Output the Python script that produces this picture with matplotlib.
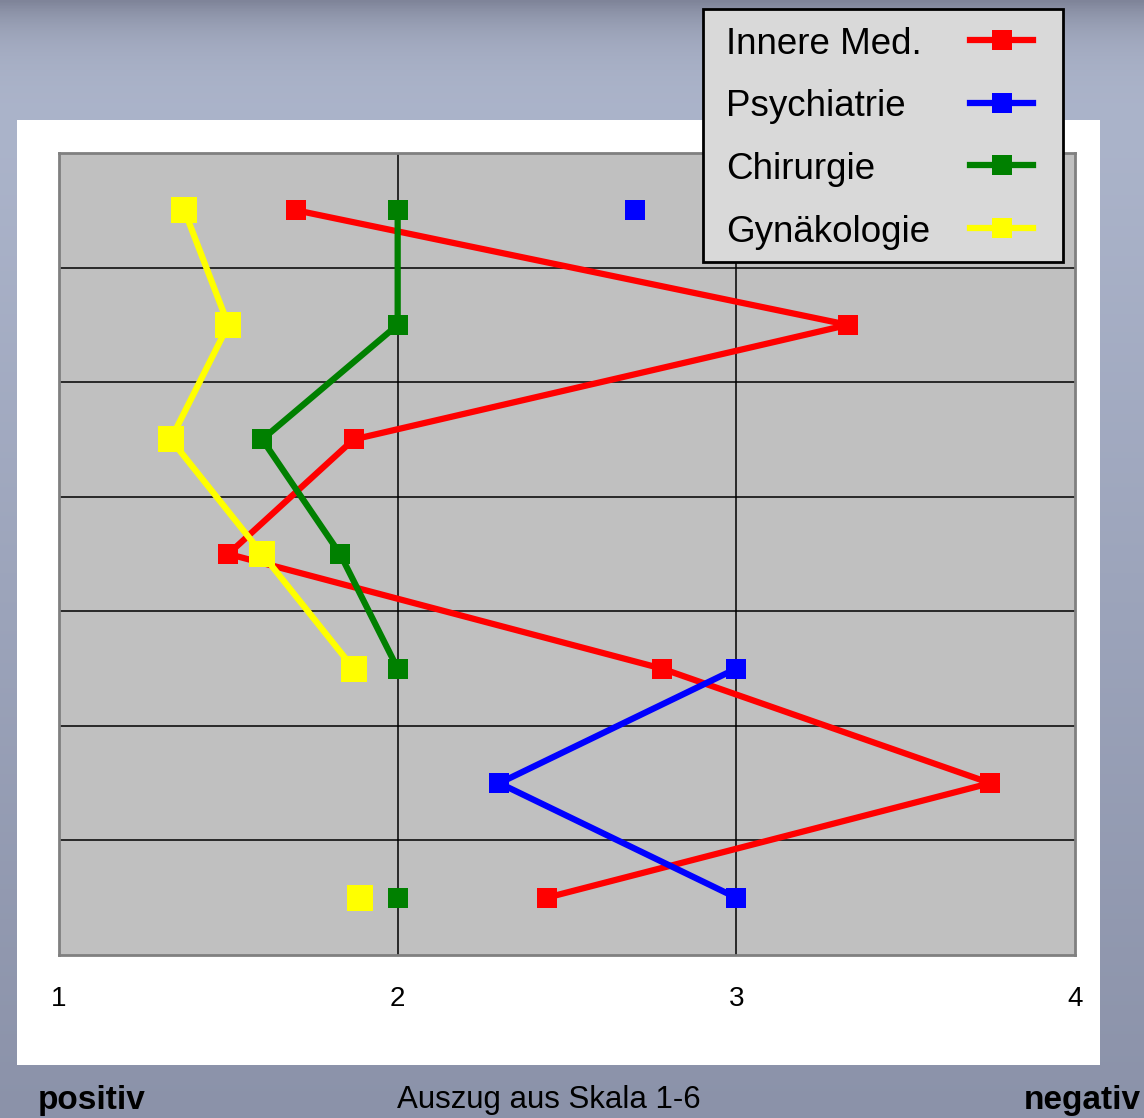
import numpy as np
import matplotlib
matplotlib.use("Agg")
import matplotlib.pyplot as plt
import matplotlib.patches as patches
from matplotlib.lines import Line2D

plt.rcParams["font.family"] = ["Liberation Sans", "DejaVu Sans"]

# rows top -> bottom (7 items), values on the 1..6 scale (excerpt 1-4)
rows = np.arange(7)
innere = [1.70, 3.33, 1.87, 1.50, 2.78, 3.75, 2.44]
psych = [2.70, np.nan, np.nan, np.nan, 3.00, 2.30, 3.00]
chir = [2.00, 2.00, 1.60, 1.83, 2.00, np.nan, 2.00]
gyn = [1.37, 1.50, 1.33, 1.60, 1.87, np.nan, 1.89]

series_names = ["Innere Med.", "Psychiatrie", "Chirurgie", "Gynäkologie"]
series_vals = [innere, psych, chir, gyn]
series_cols = ["#ff0000", "#0000ff", "#008000", "#ffff00"]
series_ms = [14.5, 14.5, 14.5, 19]

xticks = [1, 2, 3, 4]

W, H = 1144, 1118
fig = plt.figure(figsize=(W / 100, H / 100), dpi=100)

# slide background gradient
bg = fig.add_axes([0, 0, 1, 1], zorder=-10)
t = np.linspace(0, 1, 400)[:, None]
top = np.array([0.690, 0.725, 0.812])
bot = np.array([0.545, 0.573, 0.663])
grad = top + (bot - top) * t
shade = np.clip(1 - np.exp(-t * 400 / 12), 0, 1)  # darker strip at very top
dark = np.array([0.50, 0.52, 0.60])
grad = grad * shade + dark * (1 - shade)
bg.imshow(grad[:, None, :].repeat(2, axis=1), aspect="auto", extent=[0, 1, 0, 1])
bg.set_axis_off()

# white panel
fig.patches.append(patches.Rectangle((17 / W, 1 - 1065 / H), (1100 - 17) / W, (1065 - 120) / H,
                                     transform=fig.transFigure, facecolor="white",
                                     edgecolor="none", zorder=-5))

ax = fig.add_axes([59 / W, 1 - 955 / H, (1075 - 59) / W, (955 - 153) / H])
ax.set_facecolor("#c0c0c0")

for name, vals, col, ms in zip(series_names, series_vals, series_cols, series_ms):
    ax.plot(vals, rows, color=col, lw=4.5, marker="s", ms=ms,
            markeredgewidth=0, solid_joinstyle="round", zorder=3)

ax.set_xlim(1, 4)
ax.set_ylim(6.5, -0.5)
for xv in [2, 3]:
    ax.axvline(xv, color="black", lw=1.1, zorder=1)
for yv in np.arange(0.5, 6.5, 1):
    ax.axhline(yv, color="black", lw=1.1, zorder=1)

ax.set_xticks(xticks)
ax.set_xticklabels([str(v) for v in xticks], fontsize=20)
ax.tick_params(axis="x", length=0, pad=22)
ax.set_yticks([])
for s in ax.spines.values():
    s.set_color("#808080")
    s.set_linewidth(2)

# legend box, drawn by hand: text left, line+marker key on the right
lx0, lx1, ly0, ly1 = 703, 1063, 9, 262
fig.patches.append(patches.Rectangle((lx0 / W, 1 - ly1 / H), (lx1 - lx0) / W, (ly1 - ly0) / H,
                                     transform=fig.transFigure, facecolor="#d9d9d9",
                                     edgecolor="black", lw=2, zorder=10))
for i, (name, col) in enumerate(zip(series_names, series_cols)):
    yc = 1 - (40 + i * 62.7) / H
    fig.text(726 / W, yc, name, fontsize=26.5, ha="left", va="center_baseline", zorder=11)
    fig.lines.append(Line2D([970 / W, 1033 / W], [yc, yc], transform=fig.transFigure,
                            color=col, lw=4.5, zorder=11))
    fig.lines.append(Line2D([1002 / W], [yc], transform=fig.transFigure, color=col,
                            marker="s", ms=14.5, markeredgewidth=0, zorder=12))

fig.text(38 / W, 1 - 1100 / H, "positiv", fontsize=24, fontweight="bold",
         ha="left", va="center")
fig.text(549 / W, 1 - 1100 / H, "Auszug aus Skala 1-6", fontsize=22.5,
         ha="center", va="center")
fig.text(1141 / W, 1 - 1100 / H, "negativ", fontsize=24, fontweight="bold",
         ha="right", va="center")

fig.savefig("out.png", dpi=100)
